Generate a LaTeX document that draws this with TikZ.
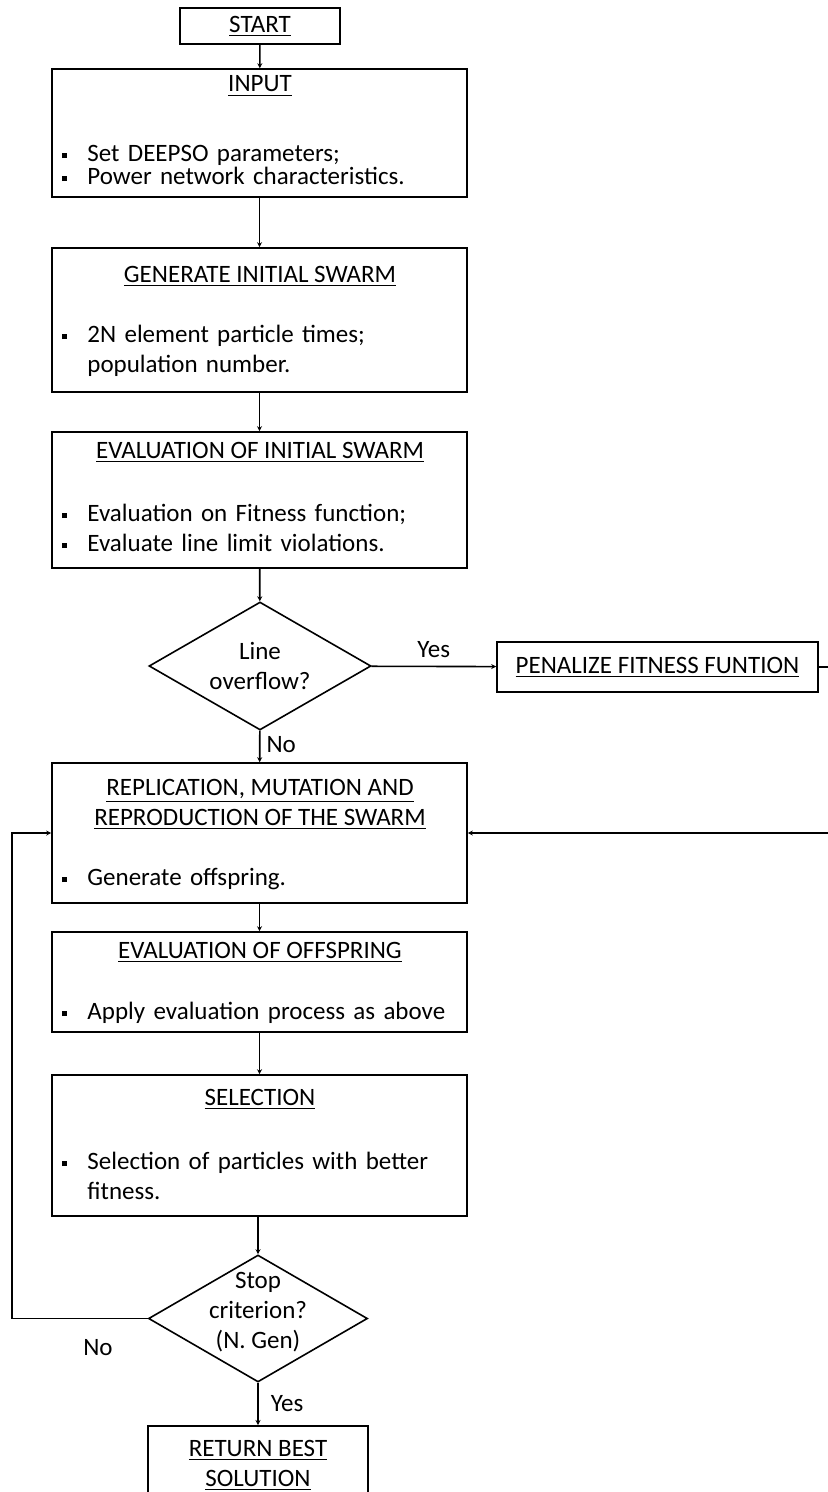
\documentclass[tikz,border=0pt]{standalone}
\usepackage{fontspec}
\setmainfont{Carlito}
\usetikzlibrary{positioning, arrows.meta, shapes.geometric}

\newcommand{\ttl}[1]{\underline{#1}}
\newcommand{\bul}{\makebox[12.5pt][l]{\rule[1.8pt]{2.4pt}{2.4pt}}}
\newcommand{\ind}{\hspace*{12.5pt}}

\begin{document}
\begin{tikzpicture}[
    x=0.5pt, y=-0.5pt,
    line/.style={draw, thick},
    arr/.style={line, -{Stealth[length=2.5pt, width=2.5pt]}},
    box/.style={draw, thick, minimum width=207.5pt, inner sep=0pt},
    dec/.style={draw, thick, diamond, aspect=1.75, inner sep=0pt, minimum width=111pt, minimum height=64pt, align=center},
    txt/.style={inner sep=0pt, align=center},
    items/.style={inner sep=0pt, anchor=north west, text width=200pt, align=left},
    font=\fontsize{12.5}{15}\selectfont
  ]
    \useasboundingbox (0,0) rectangle (827,1492);
    % START
    \node[draw, thick, minimum width=80pt, minimum height=18pt, inner sep=0pt] (start) at (260,26) {\ttl{START}};
    % INPUT
    \node[box, minimum height=64pt] (input) at (259.5,133) {};
    \node[txt] (inputT) at (260,86) {\ttl{INPUT}};
    \node[items, font=\fontsize{12.5}{11.5}\selectfont] (inputB) at (62,145) {\bul Set DEEPSO parameters;\\\bul Power network characteristics.};
    % GENERATE INITIAL SWARM
    \node[box, minimum height=72pt] (gen) at (259.5,320) {};
    \node[txt] (genT) at (260,276) {\ttl{GENERATE INITIAL SWARM}};
    \node[items] (genB) at (62,325) {\bul 2N element particle times;\\\ind population number.};
    % EVALUATION OF INITIAL SWARM
    \node[box, minimum height=68pt] (eval) at (259.5,500) {};
    \node[txt] (evalT) at (260,452) {\ttl{EVALUATION OF INITIAL SWARM}};
    \node[items] (evalB) at (62,504) {\bul Evaluation on Fitness function;\\\bul Evaluate line limit violations.};
    % Line overflow?
    \node[dec] (over) at (260,666) {Line\\overflow?};
    \node[draw, thick, minimum width=160.5pt, minimum height=25pt, inner sep=0pt] (pen) at (657.5,667) {\ttl{PENALIZE FITNESS FUNTION}};
    % REPLICATION
    \node[box, minimum height=70pt] (repl) at (259.5,833) {};
    \node[txt] (replT) at (260,804) {\ttl{REPLICATION, MUTATION AND}\\\ttl{REPRODUCTION OF THE SWARM}};
    \node[items] (replB) at (62,868) {\bul Generate offspring.};
    % EVALUATION OF OFFSPRING
    \node[box, minimum height=50pt] (evoff) at (259.5,982) {};
    \node[txt] (evoffT) at (260,952) {\ttl{EVALUATION OF OFFSPRING}};
    \node[items] (evoffB) at (62,1002) {\bul Apply evaluation process as above};
    % SELECTION
    \node[box, minimum height=70.5pt] (sel) at (259.5,1145.5) {};
    \node[txt] (selT) at (260,1099) {\ttl{SELECTION}};
    \node[items] (selB) at (62,1152) {\bul Selection of particles with better\\\ind fitness.};
    % Stop criterion?
    \node[dec, minimum width=109.5pt, minimum height=63.5pt] (stop) at (258,1318.5) {};
    \node[txt] (stopT) at (258,1312) {Stop\\criterion?\\(N. Gen)};
    % RETURN BEST SOLUTION
    \node[draw, thick, minimum width=110pt, minimum height=40pt, inner sep=0pt, align=center, anchor=north] (ret) at (258,1425) {\ttl{RETURN BEST}\\\ttl{SOLUTION}};
    % connectors
    \draw[arr] (start) -- (input);
    \draw[arr] (input) -- (gen);
    \draw[arr] (gen) -- (eval);
    \draw[arr] (eval) -- (over);
    \draw[arr] (over) -- node[above=4pt, txt] (yes1) {Yes} (pen);
    \draw[arr] (over) -- node[right=3pt, txt, pos=0.45] (no1) {No} (repl);
    \coordinate (rc) at (836,833);
    \draw[arr] (pen.east) -| (rc) -- (repl.east);
    \draw[arr] (repl) -- (evoff);
    \draw[arr] (evoff) -- (sel);
    \draw[arr] (stop |- sel.south) -- (stop);
    \coordinate (lc) at (12,1318.5);
    \draw[arr] (stop.west) -- (lc) |- (repl.west);
    \node[txt] (no2) at (98,1348) {No};
    \draw[arr] (stop) -- node[right=6pt, txt] (yes2) {Yes} (ret);
  \end{tikzpicture}
\end{document}
